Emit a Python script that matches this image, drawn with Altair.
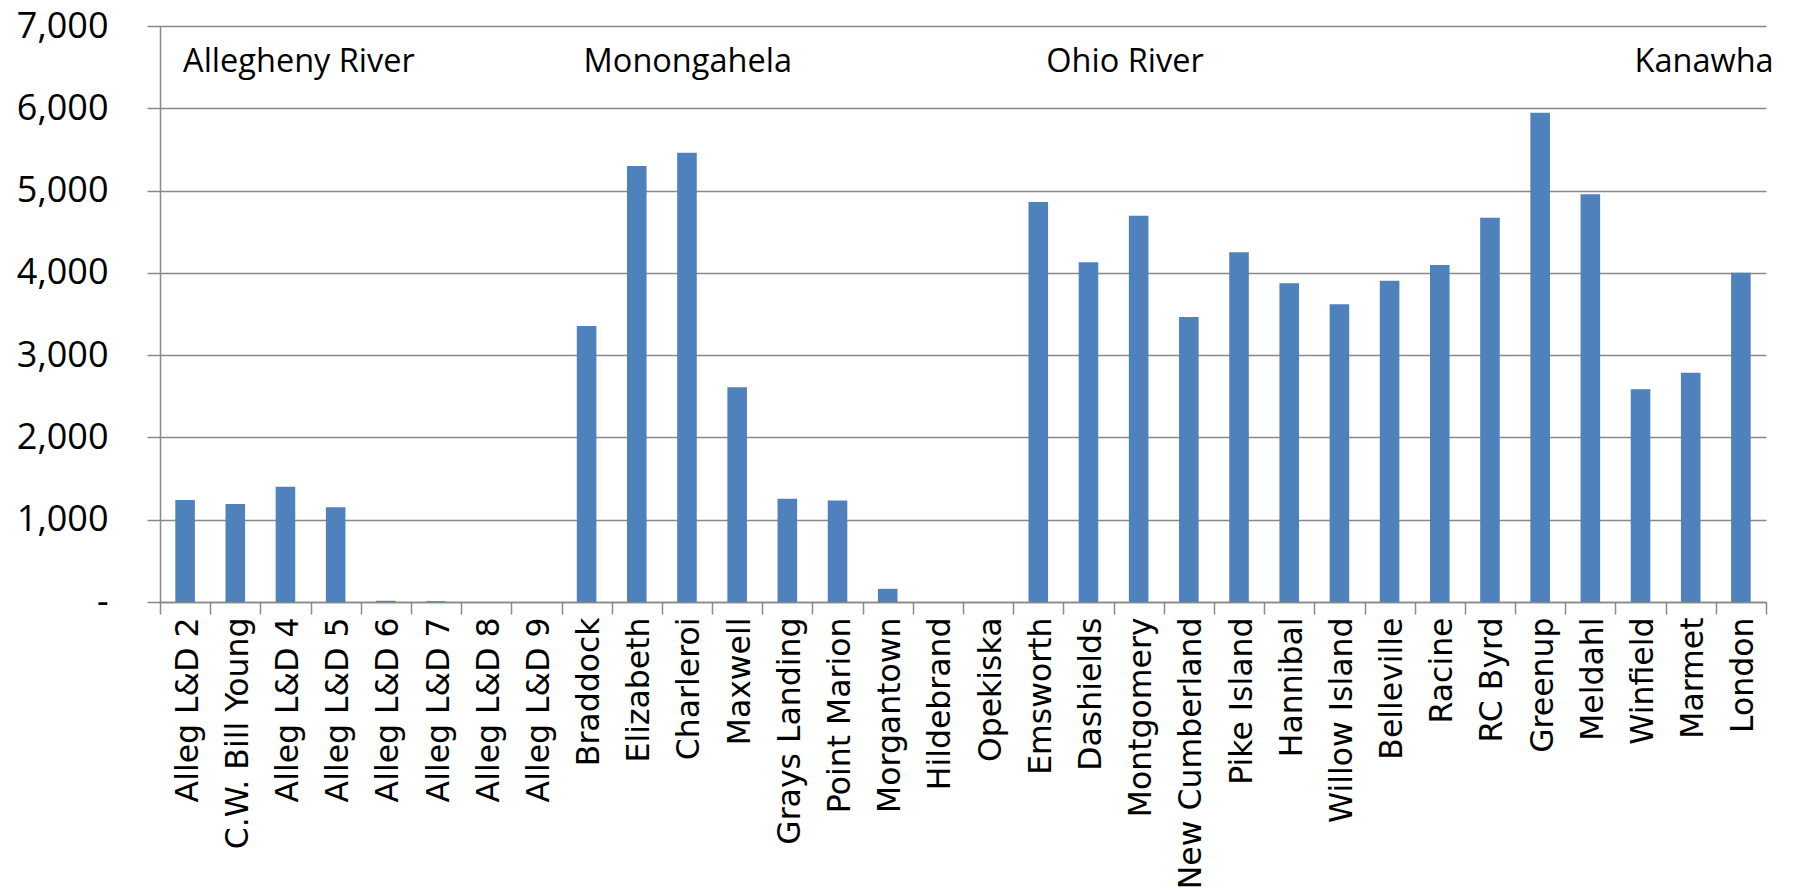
import altair as alt
import pandas as pd

# Lock and dam sites along the upper Ohio River system, in river order
locks = [
    "Alleg L&D 2", "C.W. Bill Young", "Alleg L&D 4", "Alleg L&D 5", "Alleg L&D 6",
    "Alleg L&D 7", "Alleg L&D 8", "Alleg L&D 9", "Braddock", "Elizabeth",
    "Charleroi", "Maxwell", "Grays Landing", "Point Marion", "Morgantown",
    "Hildebrand", "Opekiska", "Emsworth", "Dashields", "Montgomery",
    "New Cumberland", "Pike Island", "Hannibal", "Willow Island", "Belleville",
    "Racine", "RC Byrd", "Greenup", "Meldahl", "Winfield", "Marmet", "London",
]
tonnage = [
    1240, 1190, 1400, 1150, 15,
    10, 0, 0, 3355, 5300,
    5460, 2610, 1255, 1235, 160,
    0, 0, 4860, 4130, 4695,
    3465, 4250, 3875, 3620, 3905,
    4095, 4670, 5945, 4955, 2585, 2785, 4000,
]

# River section captions, each placed over the first lock of its section
river_names = ["Allegheny River", "Monongahela", "Ohio River", "Kanawha"]
river_anchor = ["Alleg L&D 2", "Braddock", "Emsworth", "Winfield"]
caption_level = [6440, 6440, 6440, 6440]

y_ticks = [0, 1000, 2000, 3000, 4000, 5000, 6000, 7000]

GRAY = "#898989"
BLUE = "#4F81BD"

bars_df = pd.DataFrame({"lock": locks, "value": tonnage})
captions_df = pd.DataFrame({"lock": river_anchor, "name": river_names, "value": caption_level})

x_enc = alt.X(
    "lock:N",
    sort=locks,
    scale=alt.Scale(paddingInner=0, paddingOuter=0),
    axis=alt.Axis(
        title=None,
        labelAngle=270,
        labelAlign="right",
        labelBaseline="middle",
        labelFont="DejaVu Sans",
        labelFontSize=31.5,
        labelColor="black",
        labelPadding=3,
        labelOffset=3,
        labelLimit=400,
        labelOverlap=False,
        tickBand="extent",
        tickSize=12,
        tickColor=GRAY,
        tickWidth=1.5,
        domainColor=GRAY,
        domainWidth=1.5,
        grid=False,
    ),
)

y_enc = alt.Y(
    "value:Q",
    scale=alt.Scale(domain=[0, 7000], nice=False),
    axis=alt.Axis(
        title=None,
        values=y_ticks,
        labelExpr="datum.value == 0 ? '-\u00a0\u00a0\u00a0' : format(datum.value, ',')",
        labelFont="Open Sans",
        labelFontSize=36,
        labelColor="black",
        labelPadding=39,
        tickSize=13,
        tickColor=GRAY,
        tickWidth=1.5,
        domainColor=GRAY,
        domainWidth=1.5,
        grid=True,
        gridColor=GRAY,
        gridWidth=1.5,
    ),
)

bars = alt.Chart(bars_df).mark_bar(
    color=BLUE, width=alt.RelativeBandSize(0.39)
).encode(x=x_enc, y=y_enc)

# Section captions: each one nudged a little from its anchor lock
caption_dx = {"Allegheny River": -2, "Monongahela": -3, "Ohio River": 8, "Kanawha": -6}
captions = []
for name in river_names:
    captions.append(
        alt.Chart(captions_df)
        .transform_filter(alt.datum.name == name)
        .mark_text(
            align="left",
            baseline="alphabetic",
            dx=caption_dx[name],
            font="Open Sans",
            fontSize=32.5,
            color="black",
        )
        .encode(
            x=alt.X("lock:N", sort=locks),
            y=alt.Y("value:Q"),
            text="name:N",
        )
    )

chart = (
    alt.layer(bars, *captions)
    .properties(
        width=1606,
        height=576,
        autosize=alt.AutoSizeParams(type="none"),
        padding={"left": 160, "top": 26, "right": 29, "bottom": 290},
        background="white",
    )
    .configure_view(stroke=None)
)

chart.save("out.html", embed_options={"renderer": "svg", "actions": False})
